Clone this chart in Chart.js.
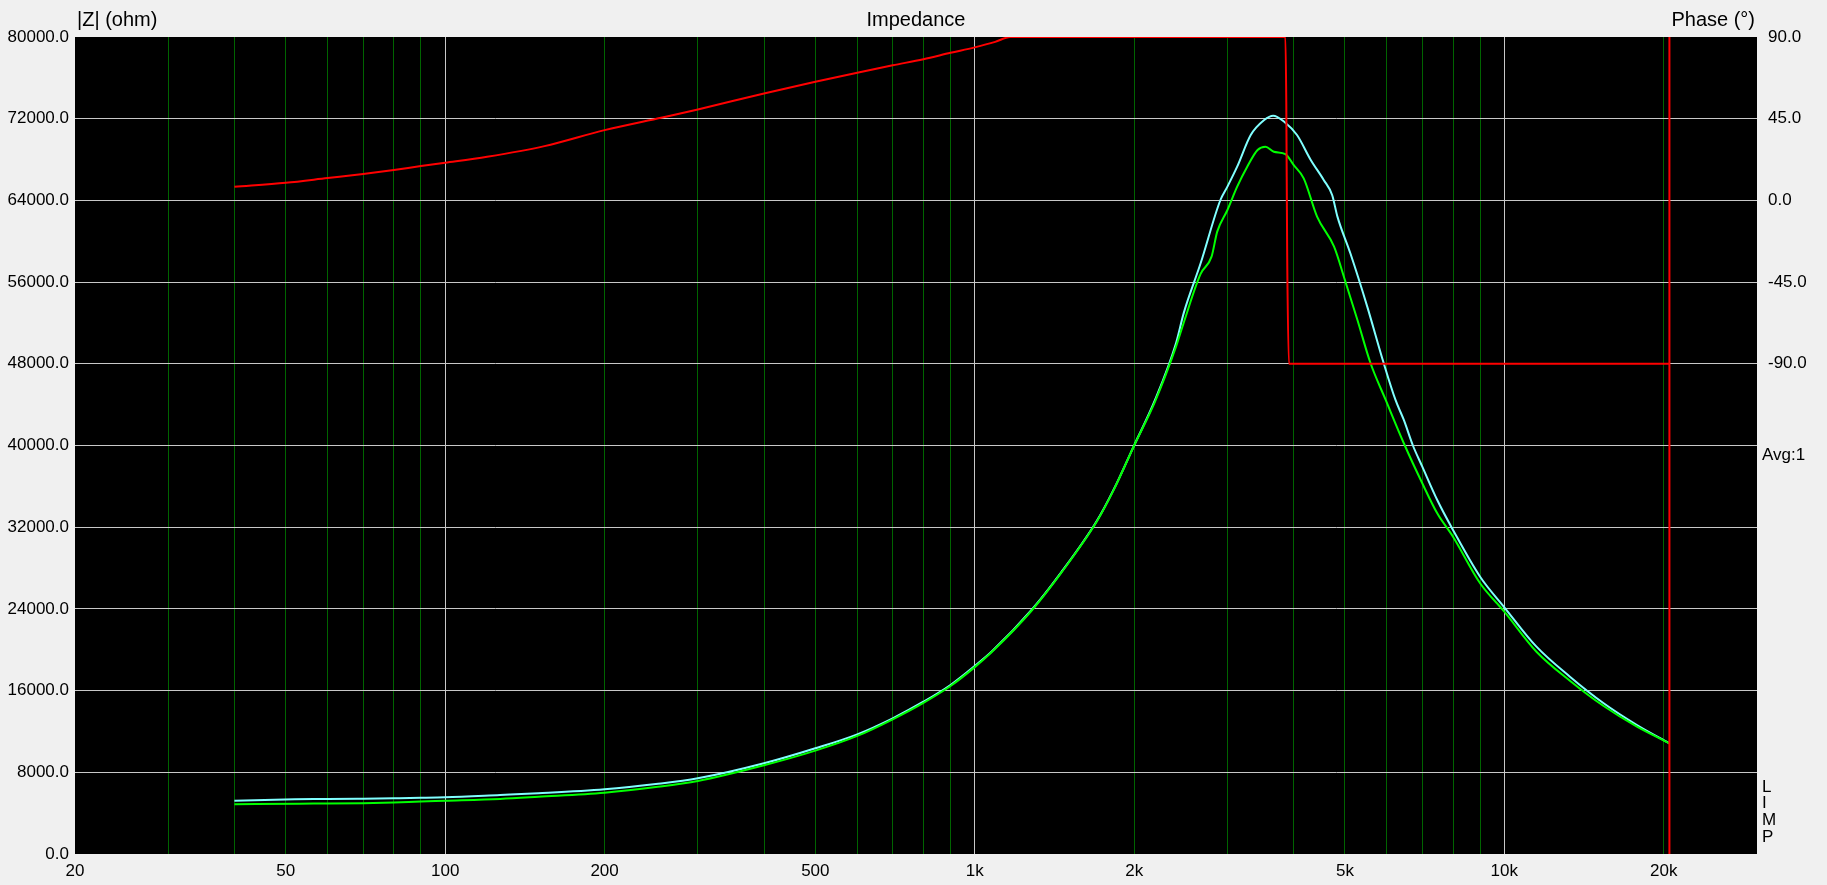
<!DOCTYPE html>
<html>
<head>
<meta charset="utf-8">
<script src="https://cdn.jsdelivr.net/npm/chart.js@4.4.0/dist/chart.umd.min.js"></script>
<style>
  body { margin: 0; background: #f0f0f0; }
  canvas { display: block; }
</style>
</head>
<body>
<canvas id="impChart" width="1827" height="885"></canvas>
<script>
// impedance curve 1 (cyan)
const cyanFreq = [40, 52, 60, 70, 80, 90, 100, 127, 150, 200, 250, 300, 400, 500, 600, 700, 800, 900, 1000, 1078, 1280, 1455, 1700, 1830, 2000, 2190, 2400, 2480, 2670, 2910, 3000, 3130, 3320, 3520, 3660, 3840, 4060, 4310, 4560, 4730, 4840, 5120, 5510, 5920, 6230, 6460, 6720, 7000, 7470, 8000, 9000, 10000, 11500, 13300, 15400, 17800, 20500];
const cyanZ = [5220, 5360, 5380, 5420, 5460, 5500, 5550, 5780, 5950, 6340, 6850, 7410, 8880, 10350, 11720, 13290, 14910, 16550, 18410, 19850, 23890, 27550, 32600, 35700, 40020, 44460, 50040, 52940, 57840, 64040, 65350, 67300, 70400, 71870, 72300, 71710, 70400, 67960, 66000, 64530, 62410, 58820, 53600, 48050, 44460, 42500, 40000, 37930, 34660, 31730, 27150, 24160, 20300, 17360, 14760, 12630, 10840];

// impedance curve 2 (green)
const greenFreq = [40, 53, 60, 70, 80, 90, 100, 127, 150, 200, 250, 300, 400, 500, 600, 700, 800, 900, 1000, 1078, 1280, 1455, 1700, 1830, 2000, 2190, 2400, 2480, 2670, 2800, 2870, 3000, 3130, 3270, 3420, 3540, 3670, 3860, 4000, 4180, 4430, 4770, 5000, 5280, 5590, 5970, 6460, 7000, 7470, 8000, 9000, 10000, 11500, 13300, 15400, 17800, 20500];
const greenZ = [4870, 4930, 4940, 4980, 5050, 5150, 5220, 5390, 5600, 6000, 6550, 7150, 8690, 10120, 11560, 13190, 14800, 16450, 18300, 19800, 23820, 27500, 32550, 35650, 40000, 44300, 49700, 52000, 56800, 58490, 60940, 63060, 65350, 67300, 68940, 69260, 68770, 68540, 67470, 66160, 62410, 59470, 56210, 52290, 48050, 44460, 40220, 36300, 33360, 31070, 26510, 23730, 19810, 16970, 14490, 12470, 10840];

// phase (red)
const phaseFreq = [40, 50, 60, 70, 80, 90, 100, 120, 154, 200, 257, 300, 400, 500, 600, 700, 800, 900, 1000, 1093, 1167, 3860, 3875, 3890, 3920, 20500, 20500, 20500];
const phaseDeg = [7.5, 9.7, 12.3, 14.5, 16.7, 18.9, 20.7, 24.0, 29.9, 38.7, 45.7, 50.1, 58.9, 65.3, 70.3, 74.4, 77.8, 81.3, 84.3, 87.3, 90, 90, 54, -29, -90, -90, -400, 200];

// x grid lines and labels
const freqGrid = [20, 30, 40, 50, 60, 70, 80, 90, 100, 200, 300, 400, 500, 600, 700, 800, 900, 1000, 2000, 3000, 4000, 5000, 6000, 7000, 8000, 9000, 10000, 20000];
const freqLabels = { 20: "20", 50: "50", 100: "100", 200: "200", 500: "500", 1000: "1k", 2000: "2k", 5000: "5k", 10000: "10k", 20000: "20k" };
const decades = [100, 1000, 10000];

function toPoints(xs, ys) {
  return xs.map((x, i) => ({ x: x, y: ys[i] }));
}

const FONT = "Liberation Sans, Arial, sans-serif";

// black plot area + the loose texts
const plotBg = {
  id: "plotBg",
  beforeDraw(chart) {
    const { ctx, chartArea: a } = chart;
    ctx.save();
    ctx.fillStyle = "#000";
    ctx.fillRect(a.left, a.top, a.right - a.left, a.bottom - a.top);
    ctx.restore();
  },
  afterDraw(chart) {
    const { ctx, chartArea: a } = chart;
    ctx.save();
    ctx.fillStyle = "#000";
    ctx.textBaseline = "middle";
    ctx.font = "20px " + FONT;
    ctx.textAlign = "left";
    ctx.fillText("|Z| (ohm)", a.left + 2, 20);
    ctx.textAlign = "center";
    ctx.fillText("Impedance", (a.left + a.right) / 2, 20);
    ctx.textAlign = "right";
    ctx.fillText("Phase (°)", a.right - 2, 20);
    ctx.font = "17px " + FONT;
    ctx.textAlign = "left";
    ctx.fillText("Avg:1", a.right + 5, 455);
    ["L", "I", "M", "P"].forEach((c, i) => {
      ctx.fillText(c, a.right + 5, 787 + i * 16.7);
    });
    ctx.restore();
  }
};

new Chart(document.getElementById("impChart"), {
  type: "line",
  data: {
    datasets: [
      {
        label: "Phase",
        data: toPoints(phaseFreq, phaseDeg),
        yAxisID: "y2",
        borderColor: "#ff0000",
        borderWidth: 2,
        cubicInterpolationMode: "monotone",
        order: 0
      },
      {
        label: "Z2",
        data: toPoints(greenFreq, greenZ),
        yAxisID: "y",
        borderColor: "#00ff00",
        borderWidth: 2,
        cubicInterpolationMode: "monotone",
        order: 1
      },
      {
        label: "Z1",
        data: toPoints(cyanFreq, cyanZ),
        yAxisID: "y",
        borderColor: "#80ffff",
        borderWidth: 2,
        cubicInterpolationMode: "monotone",
        order: 2
      }
    ]
  },
  options: {
    responsive: false,
    animation: false,
    elements: { point: { radius: 0 }, line: { tension: 0 } },
    layout: { padding: { top: 37, left: 0, right: 0, bottom: 0 } },
    plugins: { legend: { display: false }, tooltip: { enabled: false }, title: { display: false } },
    scales: {
      x: {
        type: "logarithmic",
        min: 20,
        max: 30000,
        afterBuildTicks(axis) {
          axis.ticks = freqGrid.map(v => ({ value: v }));
        },
        afterFit(axis) { axis.height = 31; },
        border: { display: false },
        grid: {
          drawTicks: false,
          color: ctx => decades.includes(ctx.tick && ctx.tick.value) ? "#c8c8c8" : (ctx.tick && ctx.tick.value === 20 ? "rgba(0,0,0,0)" : "#006400")
        },
        ticks: {
          autoSkip: false,
          maxRotation: 0,
          padding: 7,
          color: "#000",
          font: { family: FONT, size: 17 },
          callback: v => freqLabels[v] || ""
        }
      },
      y: {
        position: "left",
        min: 0,
        max: 80000,
        afterFit(axis) { axis.width = 75; },
        border: { display: false },
        grid: {
          drawTicks: false,
          color: ctx => (ctx.tick.value === 0 || ctx.tick.value === 80000) ? "rgba(0,0,0,0)" : "#c8c8c8"
        },
        ticks: {
          stepSize: 8000,
          padding: 6,
          color: "#000",
          font: { family: FONT, size: 17 },
          callback: v => v.toFixed(1)
        }
      },
      y2: {
        position: "right",
        min: -360,
        max: 90,
        afterFit(axis) { axis.width = 70; },
        border: { display: false },
        grid: { display: false, drawTicks: false },
        ticks: {
          stepSize: 45,
          padding: 11,
          color: "#000",
          font: { family: FONT, size: 17 },
          callback: v => v >= -90 ? v.toFixed(1) : ""
        }
      }
    }
  },
  plugins: [plotBg]
});
</script>
</body>
</html>
